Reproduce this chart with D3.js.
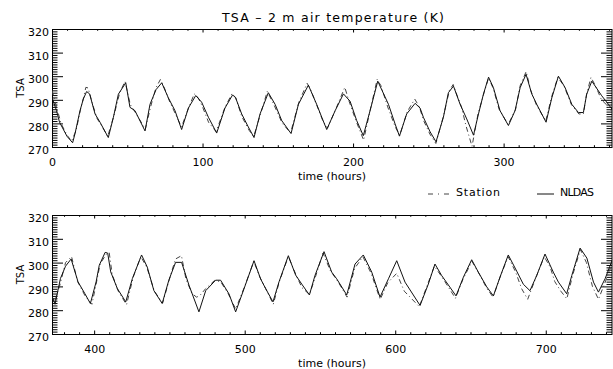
<!DOCTYPE html>
<html><head><meta charset="utf-8">
<script src="https://cdn.jsdelivr.net/npm/d3@7"></script>
<style>
html,body{margin:0;padding:0;background:#fff;}
svg{display:block;font-family:"DejaVu Sans",sans-serif;}
</style></head><body>
<svg id="chart" width="613" height="369"></svg>
<script>
// ---------- data ----------
const chartTitle = "TSA \u2013 2 m air temperature (K)";
const yLabel = "TSA";
const xLabel = "time (hours)";
const seriesNames = ["Station", "NLDAS"];
const yDomain = [270, 320];
const yMajorTicks = [270, 280, 290, 300, 310, 320];
const xTicksTop = [0, 100, 200, 300];
const xTicksBottom = [400, 500, 600, 700];
const topRange = [0, 372];
const bottomRange = [372, 744];

// NLDAS (solid) key points: hours / K
const nldasT = [0,3,5,10,13.7,15.3,18.6,20.8,23,25,28.6,31.9,37.4,40.8,44.1,49,51.8,55.1,61.8,65.1,69.1,72.9,77.3,81.7,86.1,90.6,95.5,99.4,103.9,109.4,114.9,120,122,126,130.4,134.2,138.2,143.7,148.2,152.6,158.8,163.7,170.3,175.8,179.2,182.5,188.1,193.6,198,202.4,206.8,211.3,216.4,223.5,227.9,230.8,235.6,241.2,244.5,246.7,251.2,255.1,260,263.3,266.7,271.1,275.5,280,283.3,286.6,290,293.2,297.6,303.2,307.6,311,314.9,318.7,322,328.2,332,336.4,340.8,345.3,349.7,353,355.2,358.6,365.2,369.6,372,
374,377.6,381,384.7,389.3,393.8,397.5,401.3,403.4,407.3,409,411,415.4,421,425.4,431.5,435.3,439.7,445.2,449.6,454.1,458.1,463,469.6,474.1,480.7,484,489.6,494,499.5,506.2,510.6,513.9,518.8,522.8,529,533.8,538.3,543,546.7,552.7,557.8,561.1,567.8,573.3,578.8,584.4,589.9,595.5,601,606.5,616.5,622,626.4,630.8,635.3,640.4,645.3,650.8,655.2,660.8,665.2,669.6,675.1,680.7,685.1,689.5,694,699.5,705,708.4,713.9,717.3,722.8,727.3,731.7,735,739.4,744];
const nldasV = [291,285.4,280.5,274.5,271.8,275.7,285.4,290.3,293.5,292.5,284,280.5,274,282.6,292.4,297.2,286.8,285.4,276.8,288.1,294.3,297.2,290.8,285.4,277.4,286.5,291.8,289,282.6,275.9,286.5,292.1,290.8,284,278.5,274,284,293,288.1,281.2,275.7,288.1,296.2,288.1,282.6,277.4,285.4,292.5,289.4,281.2,274.8,285.4,297.9,288.1,279.8,274.6,284,288.5,286.5,282.6,276.4,272.2,282.6,293,295.8,288.1,281.9,275,284,292.4,299.6,295.2,285.4,279.1,285.4,295.2,300.8,292.5,288.1,280.5,290.8,300,295.2,288.1,284.6,284.6,292.4,297.9,291.7,288.1,286,
282.5,293.3,298.5,301.5,291.9,287,282.8,291.9,298.9,304.3,304,296.1,289.1,283.5,293.3,303.2,298.1,288.2,282.8,292.6,300.1,300.1,290.5,279.3,288.2,292.6,292.6,286.8,279.3,288.9,300.8,293.1,289.1,283.5,291.9,302.9,294.8,290.6,286.4,294.6,304.6,296,293.2,286.4,299.4,303.2,296,285.5,293.2,300.8,291.8,282,291,299.4,294.6,290.6,286,293.9,301.2,296,289.8,286,293.9,303.2,296.4,290.9,288.2,294.6,303.6,296,291.8,286.9,294.6,306.1,301.9,291.8,287.6,293.2,300.8];

// Station (dash-dot) key points: hours / K
const stationT = [0,3,6,10,13,16,19,21,22.5,24,27,30,33,37,41,45,48.5,52,56,62,65.5,69,72,75,78,82,86,91,94.5,97,100,104,109,115,119.5,122,126,131,134,139,143,147,153,158.5,164,169.5,172,176,180,183,188.5,194.5,197,202,207,211.5,216,218.5,223,228,231,236,241,244,247,251,255,260,264,266.5,269,272,275,279,283,287,290,293,297,303,308,311,315,318,322,328,332,336,340,345,350,353,355,358,361,365,369,372,
374,377,381,385,389,394,398.5,401,404,408,410,412,416,421.5,426,431,435,440,445.5,450,454,458,461,465,468,470,474,480,484,489,494,500,506,510,514,519,523,529,534,538,543,547,552,557,562,568,573,578.5,584,590,595,601,606,616,621,626,631,635,640,645,651,656,661,665,670,675,680,684,688,693,699,703,706,710,714,718,723,727,731,735,739,744];
const stationV = [294,287,280,275,272.5,277,286,291,295.3,295,288,282,279,274.5,283,293,297.8,288,284,277.5,287,295,298.6,294.5,289.5,284,278.5,287,292.5,291,287,280.5,276.5,287,292.5,291,283,277,274.5,285,293.5,288.5,280,276,289,297,294,287.5,281,278,286,295.3,290,281,272.9,286,298.6,296,287,278.5,275,285,290.3,287,281,275.5,271.5,283,294,296.5,292,287,279,270.3,284,293,299.2,295,286,279.5,286,296,302,294,287.5,281,291.5,299.5,296,288,284,284,292,299.5,296,290,287.5,285,
284,290,300,302.5,292,286,282.5,290,299.5,303.5,304.2,295,288,282.3,294,302.5,298,288,283,293,301.5,302.9,293,287,285.5,286,289,292.5,292,287,280.5,290,300.5,294,289,282.5,292,302.5,295,289.5,286.6,294,304,296.5,292,285.5,297.5,302.5,295.5,284.5,291.5,295.5,288,281.5,290,298.5,294,290,285,293,300.5,295,289,285.5,294.5,302.5,296,289,284.6,293,302.5,298,292,288,284.8,295,305.5,300,290,284.6,291,299.5];

// ---------- drawing ----------
const svg = d3.select("#chart");
const L = 52, R = 612;
const panels = [
  {range: topRange, xTicks: xTicksTop, top: 29, bottom: 147},
  {range: bottomRange, xTicks: xTicksBottom, top: 215, bottom: 334}
];
const nldas = nldasT.map((t, i) => ({t, v: nldasV[i]}));
const station = stationT.map((t, i) => ({t, v: stationV[i]}));
const fontFam = "DejaVu Sans, sans-serif";

svg.append("text").attr("x", 333).attr("y", 22).attr("text-anchor", "middle")
  .attr("font-size", 12.5).attr("textLength", 222).attr("lengthAdjust", "spacing")
  .attr("fill", "#000").text(chartTitle);

panels.forEach((p, pi) => {
  const x = d3.scaleLinear().domain(p.range).range([L, R]);
  const y = d3.scaleLinear().domain(yDomain).range([p.bottom, p.top]);
  const g = svg.append("g");
  const clipId = "clip" + pi;
  svg.append("clipPath").attr("id", clipId).append("rect")
    .attr("x", L).attr("y", p.top).attr("width", R - L).attr("height", p.bottom - p.top);

  const xMinor = d3.range(Math.ceil(p.range[0] / 10) * 10, p.range[1] + 0.1, 10).filter(d => d % 100 !== 0);
  const yMinor = d3.range(yDomain[0], yDomain[1] + 0.1, 1).filter(d => d % 10 !== 0);
  const clean = s => s.call(a => a.select(".domain").remove()).attr("font-family", fontFam).attr("color", "#000");

  // bottom axis with labels
  g.append("g").attr("transform", `translate(0,${p.bottom})`)
    .call(d3.axisBottom(x).tickValues(p.xTicks).tickSizeInner(-3.5).tickSizeOuter(0).tickPadding(11).tickFormat(d3.format("d")))
    .call(clean).attr("font-size", 11);
  g.append("g").attr("transform", `translate(0,${p.bottom})`)
    .call(d3.axisBottom(x).tickValues(xMinor).tickSizeInner(-1.8).tickSizeOuter(0).tickFormat(""))
    .call(clean);
  // top axis
  g.append("g").attr("transform", `translate(0,${p.top})`)
    .call(d3.axisBottom(x).tickValues(p.xTicks).tickSizeInner(3.5).tickSizeOuter(0).tickFormat(""))
    .call(clean);
  g.append("g").attr("transform", `translate(0,${p.top})`)
    .call(d3.axisBottom(x).tickValues(xMinor).tickSizeInner(1.8).tickSizeOuter(0).tickFormat(""))
    .call(clean);
  // left axis
  g.append("g").attr("transform", `translate(${L},0)`)
    .call(d3.axisLeft(y).tickValues(yMajorTicks).tickSizeInner(-11).tickSizeOuter(0).tickPadding(3).tickFormat(d3.format("d")))
    .call(clean).attr("font-size", 11)
    .call(a => a.selectAll("text").attr("dy", "0.6em"));
  g.append("g").attr("transform", `translate(${L},0)`)
    .call(d3.axisLeft(y).tickValues(yMinor).tickSizeInner(-5.5).tickSizeOuter(0).tickFormat(""))
    .call(clean);
  // right axis
  g.append("g").attr("transform", `translate(${R},0)`)
    .call(d3.axisRight(y).tickValues(yMajorTicks).tickSizeInner(-11).tickSizeOuter(0).tickFormat(""))
    .call(clean);
  g.append("g").attr("transform", `translate(${R},0)`)
    .call(d3.axisRight(y).tickValues(yMinor).tickSizeInner(-5.5).tickSizeOuter(0).tickFormat(""))
    .call(clean);

  // frame
  g.append("rect").attr("x", L + 0.5).attr("y", p.top + 0.5).attr("width", R - L - 0.5).attr("height", p.bottom - p.top)
    .attr("fill", "none").attr("stroke", "#000").attr("stroke-width", 1);

  const line = d3.line().x(d => x(d.t)).y(d => y(d.v));
  const inRange = d => d.t >= p.range[0] - 5 && d.t <= p.range[1] + 5;
  g.append("path").datum(station.filter(inRange)).attr("d", line)
    .attr("clip-path", `url(#${clipId})`).attr("fill", "none")
    .attr("stroke", "#444").attr("stroke-width", 1).attr("stroke-dasharray", "5,3,1,3");
  g.append("path").datum(nldas.filter(inRange)).attr("d", line)
    .attr("clip-path", `url(#${clipId})`).attr("fill", "none")
    .attr("stroke", "#111").attr("stroke-width", 1);

  // axis titles
  g.append("text").attr("x", (L + R) / 2).attr("y", p.bottom + 33).attr("text-anchor", "middle")
    .attr("font-size", 11).attr("fill", "#000").text(xLabel);
  g.append("text").attr("transform", `translate(24,${(p.top + p.bottom) / 2}) rotate(-90)`)
    .attr("text-anchor", "middle").attr("font-size", 10).attr("fill", "#000").text(yLabel);
});

// legend
const leg = svg.append("g");
const legY = 194;
leg.append("line").attr("x1", 428).attr("x2", 452).attr("y1", legY).attr("y2", legY)
  .attr("stroke", "#444").attr("stroke-width", 1).attr("stroke-dasharray", "5,5,1,5");
leg.append("text").attr("x", 456).attr("y", 196).attr("font-size", 11).attr("textLength", 44)
  .attr("lengthAdjust", "spacing").attr("fill", "#000").text(seriesNames[0]);
leg.append("line").attr("x1", 537).attr("x2", 554).attr("y1", legY).attr("y2", legY)
  .attr("stroke", "#111").attr("stroke-width", 1);
leg.append("text").attr("x", 560).attr("y", 196).attr("font-size", 11).attr("textLength", 34)
  .attr("lengthAdjust", "spacing").attr("fill", "#000").text(seriesNames[1]);
</script>
</body></html>
